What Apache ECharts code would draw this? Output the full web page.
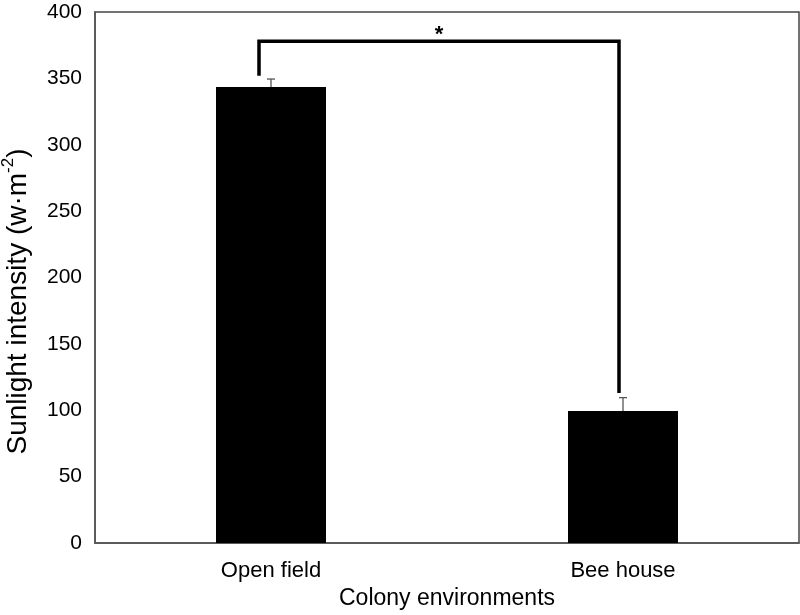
<!DOCTYPE html>
<html lang="en">
<head>
    <meta charset="UTF-8">
    <script src="https://cdn.jsdelivr.net/npm/echarts@6/dist/echarts.min.js"></script>
    <title>Sunlight intensity</title>
    <style>
        html, body { margin: 0; padding: 0; background: #fff; }
    </style>
</head>
<body>

<div id="chart" style="width: 800px;height: 615px"></div>

<script type="text/javascript">
    // data
    var categories = ['Open field', 'Bee house']
    var meanValues = [343.5, 99.5]
    var errorValues = [6, 10]
    var yTicks = [0, 50, 100, 150, 200, 250, 300, 350, 400]

    // significance bracket: [left end, top, right end], '*' on top
    var bracketLevels = [352, 378, 113]
    var bracketLabel = '*'

    var font = 'Liberation Sans, Arial, sans-serif'

    var myChart = echarts.init(document.getElementById('chart'));

    var option = {
        animation: false,
        grid: {
            left: 95,
            right: 1,
            top: 12,
            bottom: 72,
            containLabel: false,
            outerBoundsMode: 'none',
            show: true,
            borderColor: '#444',
            borderWidth: 1.5
        },
        xAxis: {
            type: 'category',
            data: categories,
            name: 'Colony environments',
            nameLocation: 'middle',
            nameGap: 42,
            nameTextStyle: { color: '#000', fontSize: 23, fontFamily: font },
            axisLine: { lineStyle: { color: '#555', width: 1.5 } },
            axisTick: { show: false },
            axisLabel: { color: '#000', fontSize: 22, fontFamily: font, margin: 17 }
        },
        yAxis: {
            type: 'value',
            min: yTicks[0],
            max: yTicks[yTicks.length - 1],
            interval: 50,
            name: '{a|Sunlight intensity (w·m}{s|-2}{a|)}',
            nameLocation: 'middle',
            nameGap: 63,
            nameTextStyle: {
                padding: [0, 48, 0, 0],
                rich: {
                    a: { color: '#000', fontSize: 28, fontFamily: font, lineHeight: 32, verticalAlign: 'bottom' },
                    s: { color: '#000', fontSize: 17, fontFamily: font, lineHeight: 32, verticalAlign: 'top' }
                }
            },
            axisLine: { show: true, lineStyle: { color: '#555', width: 1.5 } },
            axisTick: { show: false },
            splitLine: { show: false },
            axisLabel: { color: '#000', fontSize: 21, fontFamily: font, margin: 13 }
        },
        series: [
            {
                type: 'bar',
                data: meanValues,
                barWidth: '31.25%',
                itemStyle: { color: '#000' }
            },
            {
                // error bars
                type: 'custom',
                data: meanValues.map(function (v, i) { return [i, v, v + errorValues[i]] }),
                renderItem: function (params, api) {
                    var lo = api.coord([api.value(0), api.value(1)])
                    var hi = api.coord([api.value(0), api.value(2)])
                    var style = { stroke: '#555', lineWidth: 1.3 }
                    return {
                        type: 'group',
                        children: [
                            { type: 'line', shape: { x1: lo[0], y1: lo[1], x2: hi[0], y2: hi[1] }, style: style },
                            { type: 'line', shape: { x1: hi[0] - 4, y1: hi[1], x2: hi[0] + 4, y2: hi[1] }, style: style }
                        ]
                    }
                },
                z: 5
            },
            {
                // significance bracket
                type: 'custom',
                data: [[0, 1].concat(bracketLevels)],
                renderItem: function (params, api) {
                    var a = api.coord([api.value(0), api.value(2)])
                    var b = api.coord([api.value(0), api.value(3)])
                    var c = api.coord([api.value(1), api.value(3)])
                    var d = api.coord([api.value(1), api.value(4)])
                    var x1 = a[0] - 12, x2 = c[0] - 4
                    return {
                        type: 'group',
                        children: [
                            {
                                type: 'polyline',
                                shape: { points: [[x1, a[1]], [x1, b[1]], [x2, c[1]], [x2, d[1]]] },
                                style: { stroke: '#000', lineWidth: 3.5, fill: null }
                            },
                            {
                                type: 'text',
                                style: {
                                    text: bracketLabel,
                                    x: (x1 + x2) / 2,
                                    y: b[1] + 5,
                                    align: 'center',
                                    verticalAlign: 'bottom',
                                    fontSize: 22,
                                    fontWeight: 'bold',
                                    fontFamily: font,
                                    fill: '#000'
                                }
                            }
                        ]
                    }
                },
                z: 6
            }
        ]
    };

    myChart.setOption(option);
</script>
</body>
</html>
